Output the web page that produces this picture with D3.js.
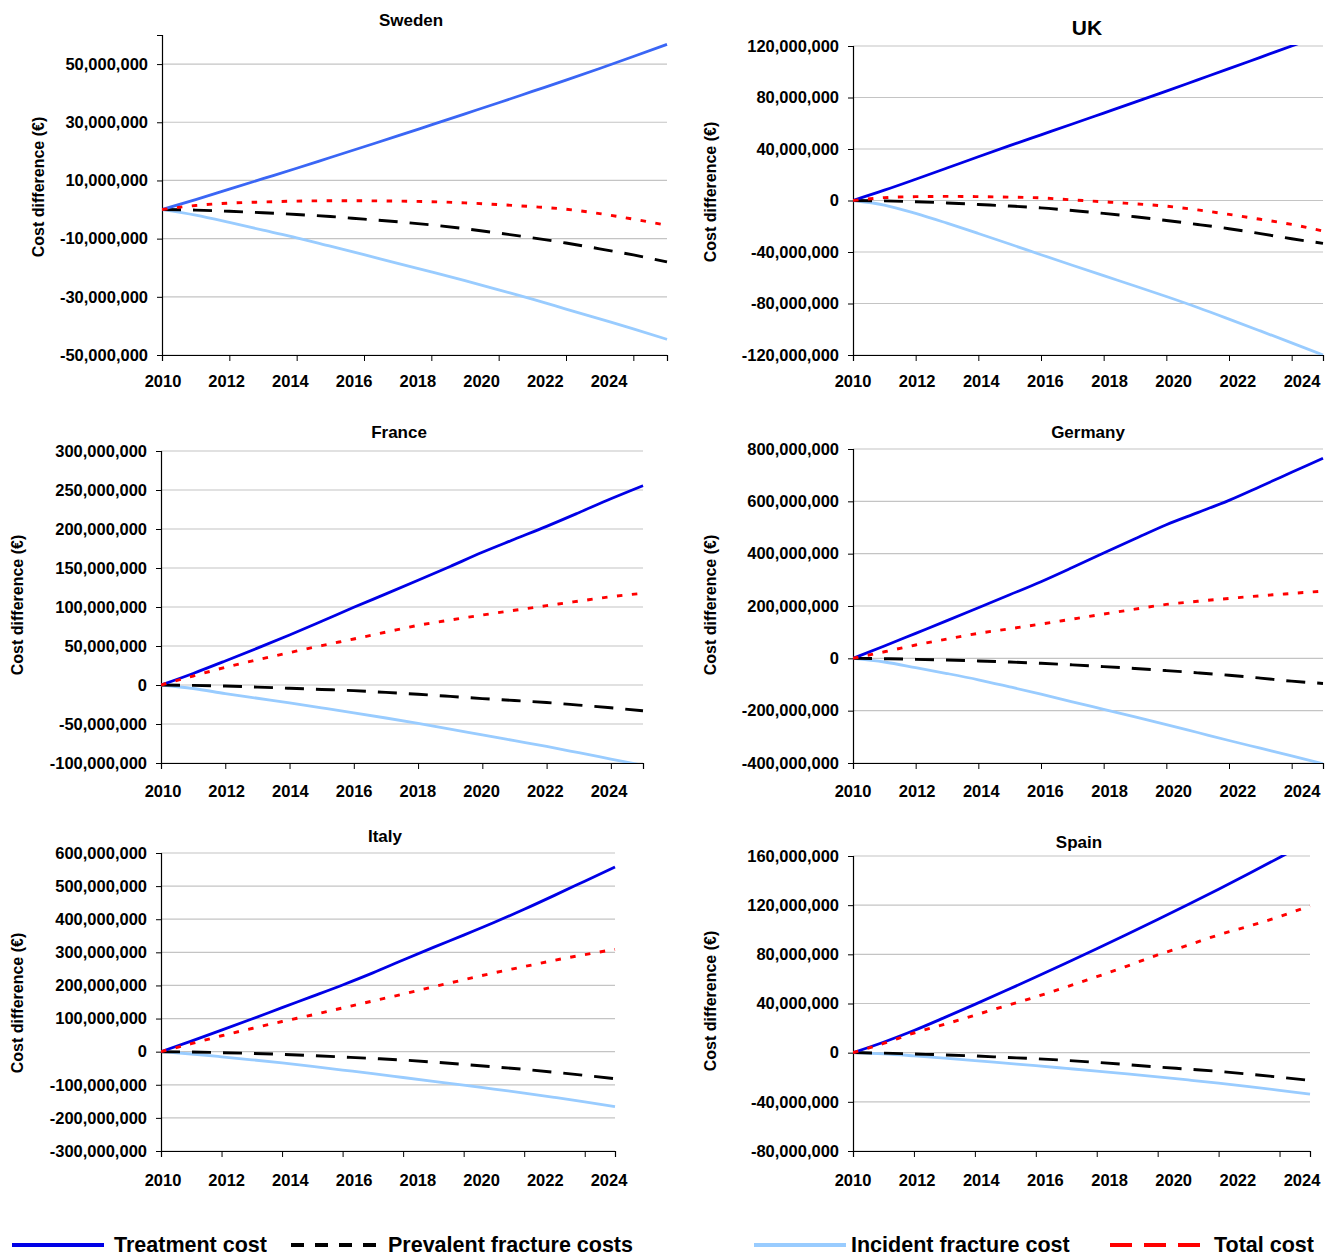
<!DOCTYPE html>
<html><head><meta charset="utf-8">
<script src="https://cdn.jsdelivr.net/npm/d3@7"></script>
<style>
body{margin:0;background:#fff}
svg text{font-family:"Liberation Sans",Arial,Helvetica,sans-serif;font-weight:bold;fill:#000}
</style></head>
<body><svg id="chart" width="1338" height="1257"></svg>
<script>
// ---------- DATA (values in million €) ----------
const years = [2010,2011,2012,2013,2014,2015,2016,2017,2018,2019,2020,2021,2022,2023,2024,2025];
const xTickYears = [2010,2012,2014,2016,2018,2020,2022,2024];
const seriesNames = ["Treatment cost","Prevalent fracture costs","Incident fracture cost","Total cost"];

const swedenTreatment  = [0,3.4,7.0,10.6,14.2,17.9,21.6,25.3,29.1,32.9,36.7,40.6,44.5,48.5,52.6,56.8];
const swedenPrevalent  = [0,-0.2,-0.6,-1.1,-1.7,-2.4,-3.3,-4.2,-5.3,-6.6,-8.1,-9.7,-11.5,-13.5,-15.6,-18.0];
const swedenIncident   = [0,-1.9,-4.4,-7.1,-9.7,-12.6,-15.5,-18.5,-21.4,-24.4,-27.6,-30.8,-34.2,-37.6,-41.0,-44.6];
const swedenTotal      = [0,1.4,2.2,2.6,2.9,3.0,3.0,2.9,2.7,2.3,1.7,1.0,0.1,-1.4,-3.3,-5.4];

const ukTreatment  = [0,8.0,16.5,25.2,34.0,42.6,51.0,59.4,67.9,76.4,85.0,93.7,102.4,111.2,120.0,128.8];
const ukPrevalent  = [0,-0.3,-1.0,-1.9,-3.1,-4.3,-5.7,-7.8,-10.0,-12.6,-15.5,-18.6,-21.9,-25.7,-29.7,-33.3];
const ukIncident   = [0,-3.5,-10.0,-17.6,-25.6,-33.8,-42.1,-50.3,-58.4,-66.4,-74.6,-83.1,-92.1,-101.3,-110.6,-120.0];
const ukTotal      = [0,2.2,3.0,3.2,3.0,2.6,2.0,0.5,-1.0,-2.6,-4.4,-7.3,-10.8,-14.6,-18.6,-23.7];

const franceTreatment = [0,14.8,30.8,47.3,64.1,81.7,99.6,116.8,134.2,152.0,170.1,186.8,203.4,220.9,238.8,255.6];
const francePrevalent = [0,-0.5,-1.3,-2.7,-4.2,-5.7,-7.2,-9.5,-11.9,-14.6,-17.4,-19.9,-22.5,-25.8,-29.2,-33.0];
const franceIncident  = [0,-4.5,-11.0,-17.0,-22.9,-29.2,-35.6,-42.3,-49.2,-56.5,-64.0,-71.4,-78.8,-86.8,-94.9,-103.0];
const franceTotal     = [0,11.5,22.6,32.3,41.5,50.5,59.0,67.8,76.5,83.3,89.7,95.8,101.7,107.5,113.2,117.5];

const germanyTreatment = [0,47,95.5,144,193.6,243,293,347,402.5,457,510.8,557,603.8,657,711,765];
const germanyPrevalent = [0,-1.5,-3.8,-6.6,-10,-14.2,-19,-25,-31.6,-38.9,-46.8,-55.4,-64.6,-75.5,-87.3,-96];
const germanyIncident  = [0,-14,-35.4,-58,-82,-109,-136.7,-166,-195,-224,-253,-283.5,-314,-343.5,-373,-403];
const germanyTotal     = [0,25,51,74,95.5,113,131,150,169,188,206,218,229,239,248,257];

const italyTreatment = [0,32,65,98.5,133,167,201.5,238,277,315,352,390,430,472,515,558];
const italyPrevalent = [0,-1,-3,-5.3,-8.1,-12,-16.2,-20.5,-25.3,-31.5,-38.4,-45.8,-53.5,-62.3,-71.7,-81.8];
const italyIncident  = [0,-7,-15.5,-24.5,-34,-44.5,-55.5,-66.5,-78,-89.5,-101,-113,-125,-138,-151.5,-166];
const italyTotal     = [0,24,48,70,91,111,132,153,174,196,217,238,257,276,293,309];

const spainTreatment = [0,8.5,18,28.5,39.3,50.3,61.5,72.9,84.5,96.3,108.3,120.5,133,145.8,158.8,172];
const spainPrevalent = [0,-0.4,-1.1,-1.8,-2.7,-3.8,-4.9,-6.3,-7.9,-9.7,-11.7,-13.4,-15.2,-17.5,-19.9,-22.6];
const spainIncident  = [0,-1.0,-2.6,-4.4,-6.4,-8.5,-10.6,-12.8,-15.0,-17.3,-19.7,-22.2,-24.8,-27.6,-30.6,-33.8];
const spainTotal     = [0,7.5,16,23,30.5,38,45.4,53.5,61.8,70.5,79.5,87.5,95.8,103,110.7,119.5];

const countries = ["Sweden","UK","France","Germany","Italy","Spain"];
const yAxisRanges = [[-50,60,20],[-120,120,40],[-100,300,50],[-400,800,200],[-300,600,100],[-80,160,40]];

// ---------- LAYOUT / STYLE ----------
const layout = [
  {box:[162,667,35,355],  title:[411,26,17], lab:[163,609], labY:387, yt:[38,187],   treat:"#3a66f5"},
  {box:[853,1323,46,355], title:[1087,35,21], lab:[853,1302], labY:387, yt:[710,192], treat:"#0000e6"},
  {box:[161,643,451,763], title:[399,438,17], lab:[163,609], labY:797, yt:[17,605],   treat:"#0000e6"},
  {box:[853,1323,449,763],title:[1088,438,17],lab:[853,1302], labY:797, yt:[710,605], treat:"#0000e6"},
  {box:[161,615,853,1151],title:[385,842,17], lab:[163,609], labY:1186, yt:[17,1003], treat:"#0000e6"},
  {box:[853,1310,856,1151],title:[1079,848,17],lab:[853,1302],labY:1186, yt:[710,1001],treat:"#0000e6"}
];
const panelData = [
  [swedenTreatment,swedenPrevalent,swedenIncident,swedenTotal],
  [ukTreatment,ukPrevalent,ukIncident,ukTotal],
  [franceTreatment,francePrevalent,franceIncident,franceTotal],
  [germanyTreatment,germanyPrevalent,germanyIncident,germanyTotal],
  [italyTreatment,italyPrevalent,italyIncident,italyTotal],
  [spainTreatment,spainPrevalent,spainIncident,spainTotal]
];
const styles = [
  {color:null, dash:null, w:2.8},
  {color:"#000", dash:"19,12", w:2.9},
  {color:"#99ccff", dash:null, w:2.8},
  {color:"#ff0000", dash:"5.5,9.5", w:2.9}
];

const loc = d3.formatLocale({decimal:".",thousands:",",grouping:[3],currency:["",""],minus:"-"});
const fmt = loc.format(",.0f");
const svg = d3.select("#chart");

countries.forEach((name,i)=>{
  const L = layout[i];
  const [x0,x1,y0,y1] = L.box;
  const [mn,mx,st] = yAxisRanges[i];
  const x = d3.scaleLinear().domain([2010,2025]).range([x0,x1]);
  const y = d3.scaleLinear().domain([mn,mx]).range([y1,y0]);
  const ticks = d3.range(mn, mx+0.001, st);
  const g = svg.append("g");

  // gridlines
  g.append("g").selectAll("line").data(ticks).join("line")
    .attr("x1",x0).attr("x2",x1).attr("y1",d=>y(d)).attr("y2",d=>y(d))
    .attr("stroke","#c4c4c4").attr("stroke-width",1.2);

  // y axis
  const ya = g.append("g").attr("transform",`translate(${x0},0)`)
    .call(d3.axisLeft(y).tickValues(ticks).tickSizeOuter(0).tickSize(5).tickPadding(9).tickFormat(d=>fmt(d*1e6)));
  ya.select(".domain").attr("stroke","#000").attr("stroke-width",1.2);
  ya.selectAll(".tick line").attr("stroke","#000");
  ya.selectAll("text").style("font-size","16.5px");

  // x axis (ticks only) + labels
  const xa = g.append("g").attr("transform",`translate(0,${y1})`)
    .call(d3.axisBottom(x).tickValues(xTickYears).tickSizeOuter(0).tickSize(6).tickFormat(""));
  xa.select(".domain").attr("stroke","#000").attr("stroke-width",1.2);
  xa.selectAll(".tick line").attr("stroke","#000");
  const labX = d3.scaleLinear().domain([2010,2024]).range(L.lab);
  g.append("g").selectAll("text").data(xTickYears).join("text")
    .attr("x",d=>labX(d)).attr("y",L.labY).attr("text-anchor","middle")
    .style("font-size","16.5px").text(d=>d);

  // clip
  const cid = "clip"+i;
  svg.append("clipPath").attr("id",cid).append("rect")
    .attr("x",x0).attr("y",y0-1).attr("width",x1-x0+2).attr("height",y1-y0+1);

  const line = d3.line().x((d,k)=>x(years[k])).y(d=>y(d)).curve(d3.curveMonotoneX);
  const order = [2,1,0,3];
  const lg = g.append("g").attr("clip-path",`url(#${cid})`);
  order.forEach(s=>{
    const st2 = styles[s];
    lg.append("path").datum(panelData[i][s]).attr("d",line)
      .attr("fill","none")
      .attr("stroke", st2.color || L.treat)
      .attr("stroke-width", st2.w)
      .attr("stroke-dasharray", st2.dash)
      .attr("stroke-linecap","butt");
  });

  // title
  g.append("text").attr("x",L.title[0]).attr("y",L.title[1]).attr("text-anchor","middle")
    .style("font-size",L.title[2]+"px").text(name);
  // y axis title
  g.append("text").attr("transform",`translate(${L.yt[0]},${L.yt[1]}) rotate(-90)`)
    .attr("text-anchor","middle").attr("dominant-baseline","central")
    .style("font-size","16px").text("Cost difference (€)");
});

// legend
const legendItems = [
  {x1:12,x2:104,tx:114,color:"#0000e6",dash:null,w:4},
  {x1:291,x2:376,tx:388,color:"#000",dash:"13,11",w:4},
  {x1:754,x2:846,tx:851,color:"#99ccff",dash:null,w:4},
  {x1:1110,x2:1200,tx:1214,color:"#ff0000",dash:"22,12",w:4}
];
const lgd = svg.append("g");
legendItems.forEach((it,k)=>{
  lgd.append("line").attr("x1",it.x1).attr("x2",it.x2).attr("y1",1245).attr("y2",1245)
    .attr("stroke",it.color).attr("stroke-width",it.w).attr("stroke-dasharray",it.dash);
  lgd.append("text").attr("x",it.tx).attr("y",1252).style("font-size","21.5px").text(seriesNames[k]);
});
</script></body></html>
